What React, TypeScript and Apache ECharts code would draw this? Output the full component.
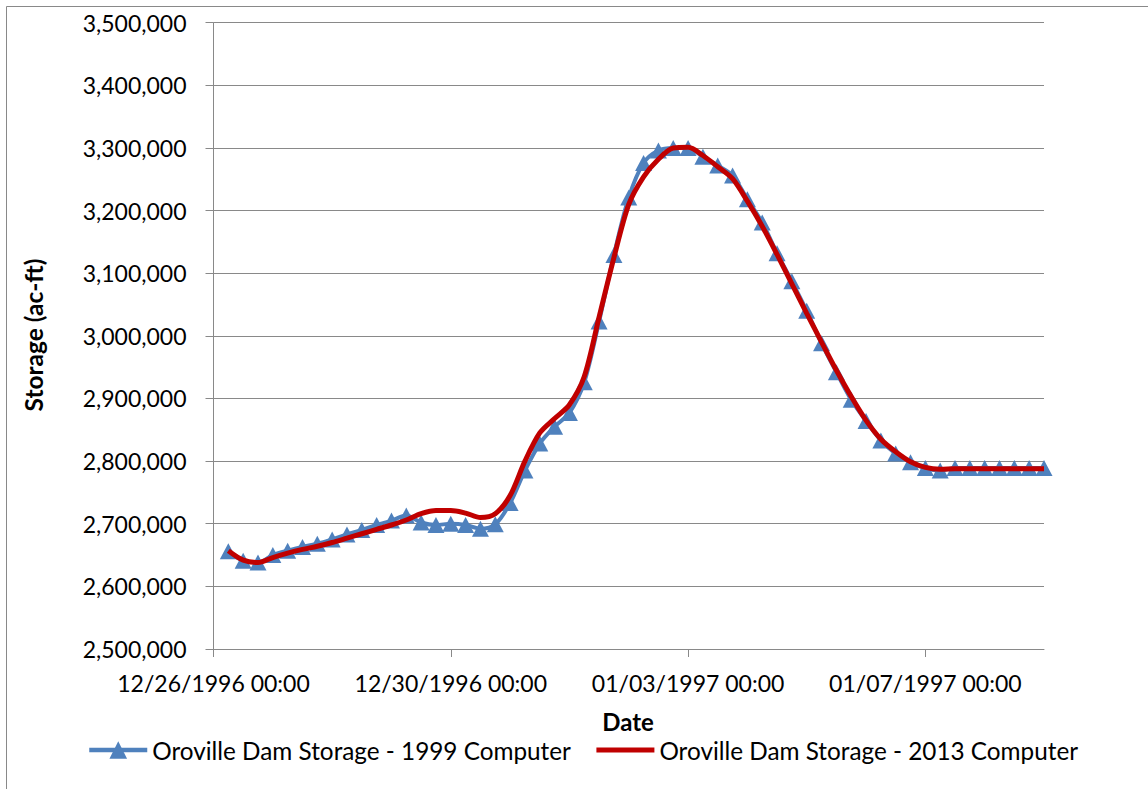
import React, { useEffect, useRef } from "react";
import * as echarts from "echarts";

// Time axis: 6-hourly readings starting 12/26/1996 06:00 (UTC used for formatting only)
const START = Date.UTC(1996, 11, 26, 0, 0);
const END = Date.UTC(1997, 0, 9, 0, 0);
const HOUR = 3600000;
const DAY = 24 * HOUR;
const STEP_HOURS = 6;

const seriesNames = [
  "Oroville Dam Storage - 1999 Computer",
  "Oroville Dam Storage - 2013 Computer",
];

// Storage (ac-ft), one value every 6 hours
const storage1999 = [
  2656000, 2641000, 2638000, 2650000, 2657000, 2663000, 2668000, 2675000,
  2683000, 2690000, 2698000, 2705000, 2713000, 2702000, 2698000, 2700000,
  2698000, 2692000, 2699000, 2733000, 2785000, 2828000, 2855000, 2877000,
  2926000, 3023000, 3129000, 3221000, 3276000, 3296000, 3300000, 3300000,
  3286000, 3272000, 3256000, 3218000, 3181000, 3132000, 3087000, 3040000,
  2988000, 2942000, 2898000, 2864000, 2833000, 2812000, 2798000, 2789000,
  2785000, 2789000, 2789000, 2789000, 2789000, 2789000, 2789000, 2789000,
];

const storage2013 = [
  2657000, 2642000, 2638000, 2646000, 2653000, 2659000, 2664000, 2670000,
  2677000, 2684000, 2691000, 2698000, 2706000, 2716000, 2721000, 2721000,
  2717000, 2710000, 2716000, 2745000, 2800000, 2845000, 2868000, 2890000,
  2935000, 3030000, 3125000, 3210000, 3254000, 3282000, 3300000, 3301000,
  3288000, 3270000, 3251000, 3215000, 3175000, 3130000, 3083000, 3036000,
  2990000, 2945000, 2903000, 2865000, 2835000, 2815000, 2799000, 2790000,
  2787000, 2788000, 2788000, 2788000, 2788000, 2788000, 2788000, 2788000,
];

const yMin = 2500000;
const yMax = 3500000;
const yStep = 100000;
const xStepDays = 4;

const FONT = "Lato, 'Open Sans', sans-serif";
const BLUE = "#4F81BD";
const RED = "#C00000";

function pad(n: number) {
  return n < 10 ? "0" + n : "" + n;
}
function fmtDate(v: number) {
  const d = new Date(v);
  return (
    pad(d.getUTCMonth() + 1) +
    "/" +
    pad(d.getUTCDate()) +
    "/" +
    d.getUTCFullYear() +
    " " +
    pad(d.getUTCHours()) +
    ":" +
    pad(d.getUTCMinutes())
  );
}
function fmtNum(v: number) {
  return Math.round(v).toString().replace(/\B(?=(\d{3})+(?!\d))/g, ",");
}

function toPairs(vals: number[]) {
  return vals.map((v, i) => [START + (i + 1) * STEP_HOURS * HOUR, v]);
}

export default function App() {
  const ref = useRef<HTMLDivElement>(null);
  useEffect(() => {
    if (!ref.current) return;
    const chart = echarts.init(ref.current, null, { renderer: "svg" });
    const gridColor = "#898989";
    chart.setOption({
      animation: false,
      backgroundColor: "#ffffff",
      textStyle: { fontFamily: FONT },
      grid: { left: 213.5, right: 104, top: 22.7, bottom: 140, containLabel: false },
      graphic: [
        {
          type: "rect",
          shape: { x: 6.5, y: 6.5, width: 1400, height: 1000 },
          style: { fill: "none", stroke: gridColor, lineWidth: 1 },
          silent: true,
        },
        {
          type: "text",
          x: 628,
          y: 721,
          style: {
            text: "Date",
            fontFamily: FONT,
            fontWeight: "bold",
            fontSize: 24,
            fill: "#000",
            align: "center",
            verticalAlign: "middle",
          },
        },
        {
          type: "text",
          x: 33,
          y: 335,
          rotation: Math.PI / 2,
          style: {
            text: "Storage (ac-ft)",
            fontFamily: FONT,
            fontWeight: "bold",
            fontSize: 24.5,
            fill: "#000",
            align: "center",
            verticalAlign: "middle",
          },
        },
      ],
      legend: {
        left: 87,
        top: 738,
        padding: 0,
        itemWidth: 58,
        itemHeight: 22,
        itemGap: 23,
        textStyle: { fontFamily: FONT, fontSize: 24.3, color: "#000", lineHeight: 24 },
        data: [
          { name: seriesNames[0], lineStyle: { width: 4.5, color: BLUE } },
          {
            name: seriesNames[1],
            lineStyle: { width: 5, color: RED },
            itemStyle: { opacity: 0 },
          },
        ],
      },
      xAxis: {
        type: "value",
        min: START,
        max: END,
        interval: xStepDays * DAY,
        axisLine: { show: true, lineStyle: { color: gridColor, width: 1 } },
        axisTick: { show: true, length: 8, lineStyle: { color: gridColor } },
        splitLine: { show: false },
        axisLabel: {
          formatter: (v: number) => fmtDate(v),
          color: "#000",
          fontFamily: FONT,
          fontSize: 23,
          margin: 22,
          showMaxLabel: false,
        },
      },
      yAxis: {
        type: "value",
        min: yMin,
        max: yMax,
        interval: yStep,
        axisLine: { show: true, lineStyle: { color: gridColor, width: 1 } },
        axisTick: { show: true, length: 8, lineStyle: { color: gridColor } },
        splitLine: { show: true, lineStyle: { color: gridColor, width: 1 } },
        axisLabel: {
          formatter: (v: number) => fmtNum(v),
          color: "#000",
          fontFamily: FONT,
          fontSize: 23,
          margin: 27,
        },
      },
      series: [
        {
          name: seriesNames[0],
          type: "line",
          data: toPairs(storage1999),
          smooth: 0.3,
          symbol: "triangle",
          symbolSize: [17, 16],
          showAllSymbol: true,
          itemStyle: { color: BLUE },
          lineStyle: { color: BLUE, width: 4 },
          z: 2,
        },
        {
          name: seriesNames[1],
          type: "line",
          data: toPairs(storage2013),
          smooth: 0.3,
          symbol: "none",
          itemStyle: { color: RED },
          lineStyle: { color: RED, width: 5 },
          z: 3,
        },
      ],
    });
    return () => chart.dispose();
  }, []);
  return (
    <div
      ref={ref}
      style={{ position: "absolute", left: 0, top: 0, width: 1148, height: 789 }}
    />
  );
}
